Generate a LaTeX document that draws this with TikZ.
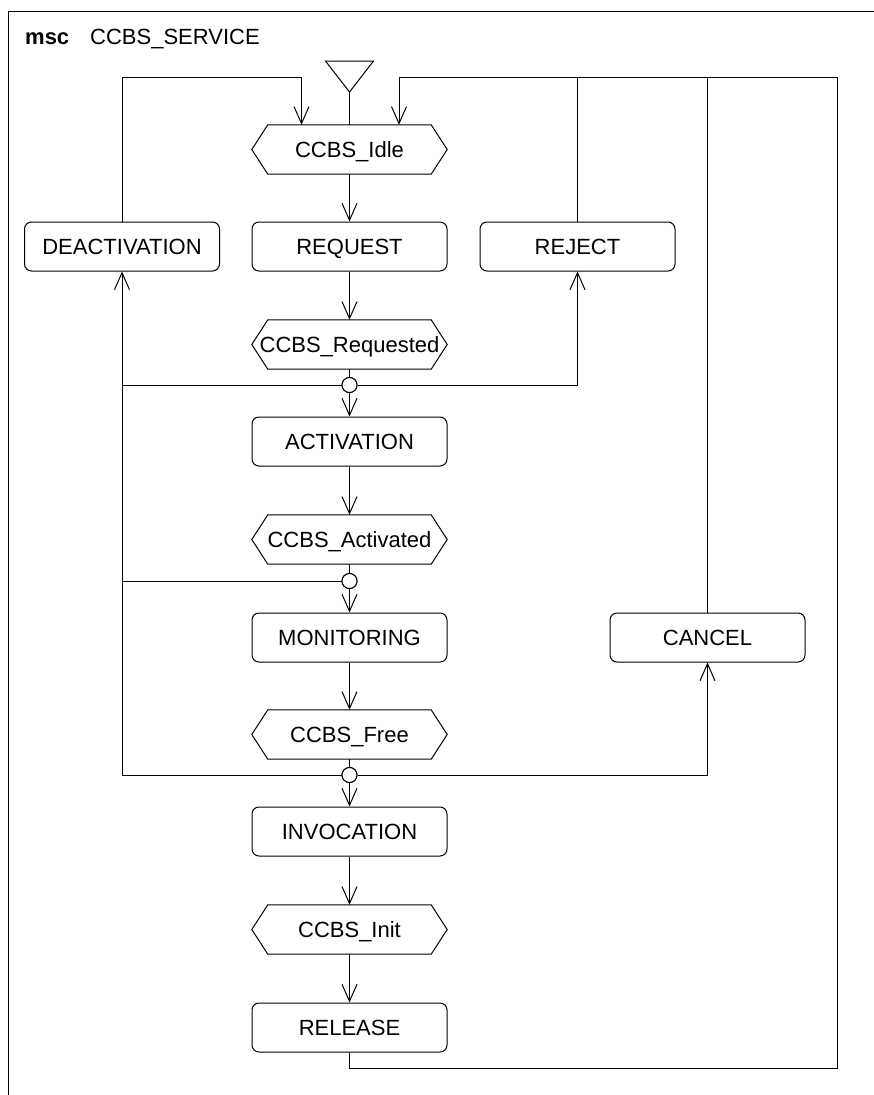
\documentclass[tikz,border=0pt]{standalone}
\usepackage{fontspec}
\setmainfont{Liberation Sans}
\usetikzlibrary{arrows.meta,calc}
\begin{document}
\begin{tikzpicture}[x=1pt,y=-1pt,
  every node/.style={font=\fontsize{22}{26}\selectfont},
  proc/.style={draw, line width=1pt, rounded corners=7pt, minimum width=195pt, minimum height=49pt, inner sep=0pt, text height=15.8pt, text depth=0pt},
  statebox/.style={minimum width=195pt, minimum height=49pt, inner sep=0pt, text height=15.8pt, text depth=0pt},
  junc/.style={circle, draw, fill=white, line width=1pt, minimum size=15pt, inner sep=0pt},
  conn/.style={line width=1pt},
  arr/.style={line width=1pt, -{Straight Barb[length=17pt,width=15pt]}}]
\useasboundingbox (0,0) rectangle (874,1095);
% frame
\draw[line width=1.4pt] (8.5,1095) -- (8.5,11.5) -- (874,11.5);
\node[anchor=base west, inner sep=0pt] (msc) at (25,44) {\bfseries msc};
\node[anchor=base west, inner sep=0pt] (title) at (90,44) {CCBS\_SERVICE};
% states (hexagons)
\node[statebox] (idle) at (349.5,149.5) {CCBS\_Idle};
\node[statebox] (requested) at (349.5,344.5) {CCBS\_Requested};
\node[statebox] (activated) at (349.5,539.5) {CCBS\_Activated};
\node[statebox] (free) at (349.5,734.5) {CCBS\_Free};
\node[statebox] (init) at (349.5,929.5) {CCBS\_Init};
\foreach \n in {idle,requested,activated,free,init}{
  \draw[line width=1pt] (\n.west) -- ([xshift=16pt]\n.north west) -- ([xshift=-16pt]\n.north east) -- (\n.east) -- ([xshift=-16pt]\n.south east) -- ([xshift=16pt]\n.south west) -- cycle;
}
% procedures
\node[proc] (deact) at (122,246.5) {DEACTIVATION};
\node[proc] (request) at (349.5,246.5) {REQUEST};
\node[proc] (reject) at (577.5,246.5) {REJECT};
\node[proc] (activation) at (349.5,441.5) {ACTIVATION};
\node[proc] (monitoring) at (349.5,637.5) {MONITORING};
\node[proc] (cancel) at (707.5,637.5) {CANCEL};
\node[proc] (invocation) at (349.5,831.5) {INVOCATION};
\node[proc] (release) at (349.5,1027.5) {RELEASE};
% start symbol
\coordinate (start) at (349.5,92);
\draw[line width=1pt] (start) -- (325.5,61) -- (373.5,61) -- cycle;
\draw[conn] (start) -- (idle.north);
% junctions
\node[junc] (j1) at (349.5,385) {};
\node[junc] (j2) at (349.5,581) {};
\node[junc] (j3) at (349.5,775) {};
% loop coordinates
\coordinate (tl) at (301.5,77);
\coordinate (tr) at (399,77);
\coordinate (br) at (837,1068);
% main column
\draw[arr] (idle) -- (request);
\draw[arr] (request) -- (requested);
\draw[conn] (requested) -- (j1);
\draw[arr] (j1) -- (activation);
\draw[arr] (activation) -- (activated);
\draw[conn] (activated) -- (j2);
\draw[arr] (j2) -- (monitoring);
\draw[arr] (monitoring) -- (free);
\draw[conn] (free) -- (j3);
\draw[arr] (j3) -- (invocation);
\draw[arr] (invocation) -- (init);
\draw[arr] (init) -- (release);
% branches
\draw[arr] (j3.west) -| (deact.south);
\draw[conn] (j1.west) -- (j1 -| deact);
\draw[conn] (j2.west) -- (j2 -| deact);
\draw[arr] (j1.east) -| (reject.south);
\draw[arr] (j3.east) -| (cancel.south);
% loops back to idle
\draw[arr] (deact.north) |- (tl) -- (tl |- idle.north);
\draw[arr] (release.south) |- (br) |- (tr) -- (tr |- idle.north);
\draw[conn] (reject.north) -- (reject.north |- tr);
\draw[conn] (cancel.north) -- (cancel.north |- tr);
% redraw junctions on top
\node[junc] at (j1) {};
\node[junc] at (j2) {};
\node[junc] at (j3) {};
\end{tikzpicture}
\end{document}
